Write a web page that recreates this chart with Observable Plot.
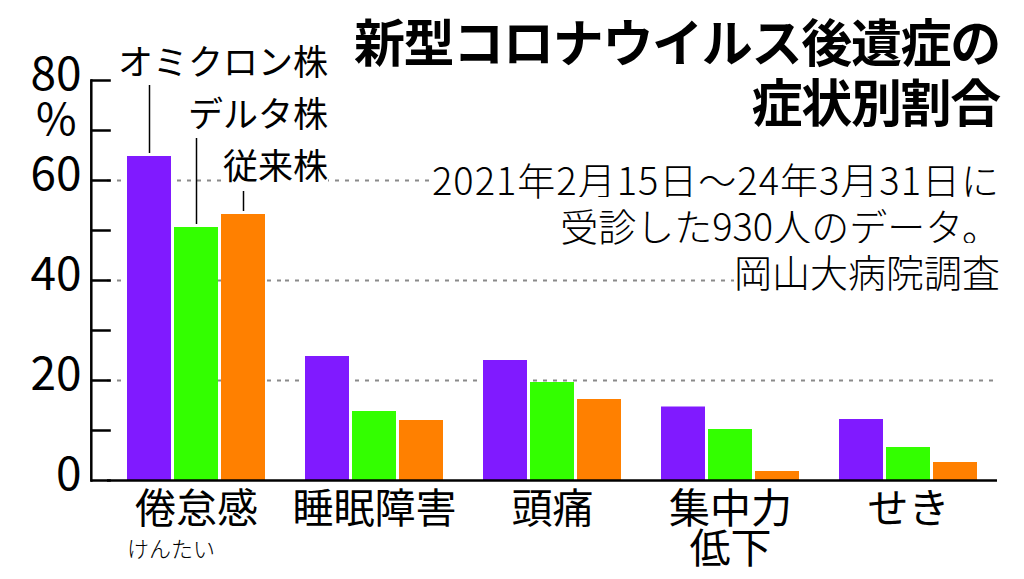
<!DOCTYPE html>
<html><head><meta charset="utf-8">
<script src="https://cdn.jsdelivr.net/npm/d3@7"></script>
<script src="https://cdn.jsdelivr.net/npm/@observablehq/plot@0.6"></script>
<style>
body{margin:0;background:#fff;}
#wrap{position:relative;width:1024px;height:579px;overflow:hidden;font-family:"Noto Sans CJK JP",sans-serif;color:#000;}
#chart{position:absolute;left:0;top:0;}
.ov{position:absolute;white-space:nowrap;}
.ov span{background:#fff;}
</style></head><body>
<div id="wrap"><div id="chart"></div></div>
<script>
// ---- data ----
const categories = ["倦怠感", "睡眠障害", "頭痛", "集中力低下", "せき"];
const categoryTickLabels = ["倦怠感", "睡眠障害", "頭痛", "集中力\n低下", "せき"];
const categoryReading = "けんたい";
const series = ["オミクロン株", "デルタ株", "従来株"];
const omicronValues = [64.8, 24.8, 24.0, 14.7, 12.2];
const deltaValues = [50.6, 13.8, 19.6, 10.2, 6.6];
const conventionalValues = [53.2, 12.0, 16.2, 1.8, 3.6];
const yTickLabels = [0, 20, 40, 60, 80];
const yMinorTicks = [0, 10, 20, 30, 40, 50, 60, 70, 80];
const gridValues = [20, 40, 60];
const yUnit = "%";
const titleLines = ["新型コロナウイルス後遺症の", "症状別割合"];
const noteLines = ["2021年2月15日～24年3月31日に", "受診した930人のデータ。", "岡山大病院調査"];

// ---- styles ----
const colors = ["#801aff", "#33ff00", "#ff8000"];
const leaderTop = {"オミクロン株": 79, "デルタ株": 68.4, "従来株": 57.8};

const valuesBySeries = [omicronValues, deltaValues, conventionalValues];
const data = categories.flatMap((c, i) => series.map((s, j) => ({category: c, series: s, value: valuesBySeries[j][i]})));
const leaderData = data.filter(d => d.category === categories[0]);
const tickLabelOf = Object.fromEntries(categories.map((c, i) => [c, categoryTickLabels[i]]));
const font = '"Noto Sans CJK JP", sans-serif';
const lightFont = '"Noto Sans CJK JP Light", "Noto Sans CJK JP", sans-serif';

const chart = Plot.plot({
  width: 1024, height: 579,
  marginLeft: 88, marginRight: 23, marginTop: 80, marginBottom: 99,
  style: {fontFamily: font, background: "transparent", color: "#000", overflow: "visible"},
  fx: {domain: categories, paddingInner: 0, paddingOuter: 0.054, align: 0.84, label: null},
  x: {domain: series, paddingInner: 0.074, paddingOuter: 0.42, axis: null},
  y: {domain: [0, 80], axis: null},
  color: {domain: series, range: colors},
  marks: [
    Plot.ruleY(gridValues, {stroke: "#8a8a8a", strokeWidth: 2, strokeDasharray: "4,6"}),
    Plot.barY(data, {fx: "category", x: "series", y: "value", fill: "series"}),
    Plot.ruleY([0], {stroke: "#000", strokeWidth: 2.5}),
    Plot.ruleX(leaderData, {fx: "category", x: "series", y1: d => d.value + 0.6, y2: d => leaderTop[d.series], stroke: "#000", strokeWidth: 1.5}),
    Plot.axisY(yMinorTicks, {tickSize: -20, tickFormat: () => "", strokeWidth: 2.5, dx: -16.2, label: null}),
    Plot.axisY(yTickLabels, {tickSize: 0, tickPadding: 26, fontSize: 46, dy: -5, label: null}),
    Plot.frame({anchor: "left", facetAnchor: "left", strokeWidth: 2.5, dx: -16.2}),
    Plot.axisFx({anchor: "bottom", tickSize: 0, tickPadding: 14, fontSize: 41, lineHeight: 0.98, tickFormat: d => tickLabelOf[d], label: null})
  ]
});
document.getElementById("chart").appendChild(chart);

// ---- overlays (title, note, legend, unit, reading) ----
const wrap = document.getElementById("wrap");
function overlay(html, style) {
  const div = document.createElement("div");
  div.className = "ov";
  div.innerHTML = html;
  Object.assign(div.style, style);
  wrap.appendChild(div);
  return div;
}
overlay(titleLines.join("<br>"), {right: "24px", top: "10px", textAlign: "right", fontSize: "51px", fontWeight: "700", lineHeight: "60px", letterSpacing: "-1.3px"});
overlay(noteLines.map((t, i) => `<span style="letter-spacing:${i === 0 ? 1 : 0}px">${t}</span>`).join("<br>"), {right: "24px", top: "156px", textAlign: "right", fontSize: "38px", fontWeight: "300", fontFamily: lightFont, lineHeight: "46px"});
overlay(series.map(t => `<span>${t}</span>`).join("<br>"), {right: "696px", top: "34px", textAlign: "right", fontSize: "35px", lineHeight: "52px"});
overlay(yUnit, {left: "36px", top: "101px", fontSize: "44px", lineHeight: "30px"});
overlay(categoryReading, {left: "127px", top: "532px", fontSize: "22px", fontWeight: "300", fontFamily: lightFont, lineHeight: "30px"});
</script>
</body></html>
